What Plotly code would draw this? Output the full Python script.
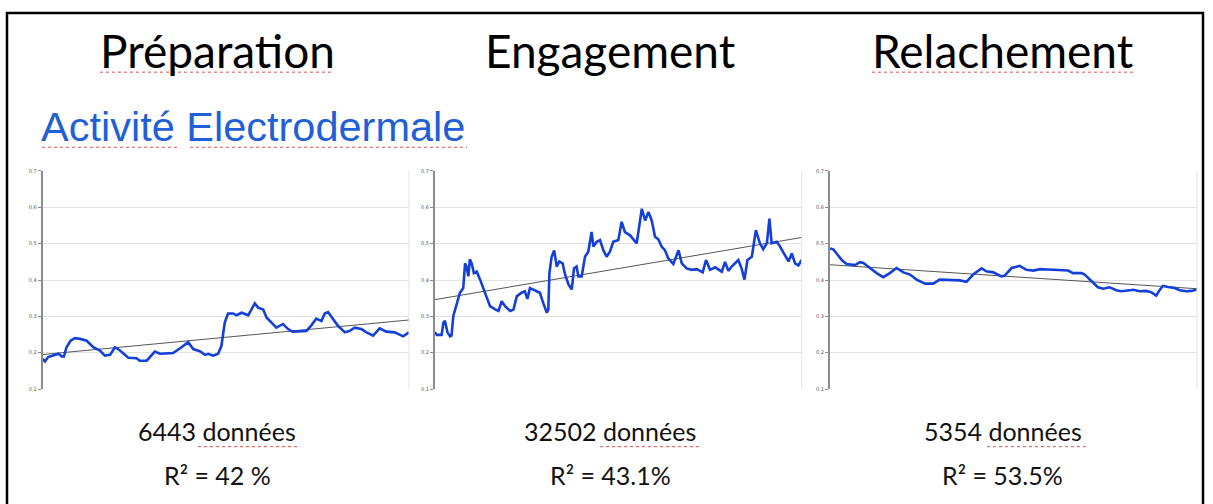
import plotly.graph_objects as go

W, H = 1213, 504

# --- data -----------------------------------------------------------------
phases = ["Préparation", "Engagement", "Relachement"]
n_samples = [6443, 32502, 5354]
r2_labels = ["R² = 42 %", "R² = 43.1%", "R² = 53.5%"]

# time as percent of the phase recording, electrodermal level
prep_t = [0.0, 0.6, 1.5, 2.9, 4.3, 5.2, 5.8, 6.5, 7.6, 8.8, 10.2, 12.0, 13.8, 15.6, 17.0,
          18.4, 19.7, 21.1, 23.4, 25.6, 26.5, 28.4, 30.6, 32.0, 33.8, 35.6, 37.9, 39.7,
          41.1, 42.9, 44.3, 45.2, 46.5, 47.9, 48.8, 49.7, 50.6, 52.0, 52.9, 54.3, 56.1,
          57.0, 57.9, 58.8, 60.2, 61.1, 62.5, 63.8, 65.6, 67.0, 68.2, 70.2, 72.0, 73.4,
          74.7, 76.1, 77.0, 77.9, 79.3, 80.6, 82.5, 83.8, 85.2, 87.0, 88.4, 90.2, 92.0,
          93.8, 96.1, 98.4, 100.0]
prep_eda = [0.183, 0.176, 0.188, 0.192, 0.197, 0.190, 0.190, 0.215, 0.233, 0.240, 0.238,
            0.233, 0.215, 0.206, 0.192, 0.194, 0.215, 0.206, 0.186, 0.185, 0.178, 0.178,
            0.203, 0.197, 0.197, 0.199, 0.215, 0.229, 0.210, 0.204, 0.194, 0.197, 0.192,
            0.197, 0.219, 0.283, 0.308, 0.308, 0.303, 0.310, 0.303, 0.319, 0.336, 0.324,
            0.319, 0.297, 0.281, 0.269, 0.279, 0.265, 0.258, 0.260, 0.260, 0.276, 0.294,
            0.287, 0.308, 0.312, 0.292, 0.274, 0.256, 0.260, 0.269, 0.265, 0.256, 0.247,
            0.267, 0.258, 0.256, 0.245, 0.256]

eng_t = [0.0, 0.5, 1.8, 2.3, 2.7, 3.4, 4.1, 4.5, 5.0, 5.9, 6.8, 7.7, 8.2, 8.6, 9.1, 9.5,
         10.0, 10.6, 11.4, 12.3, 13.2, 14.1, 15.0, 16.4, 17.3, 18.2, 19.1, 20.5, 21.4,
         22.3, 23.6, 24.5, 25.2, 25.9, 27.3, 28.6, 29.5, 30.5, 30.9, 31.2, 31.8, 32.5,
         33.2, 33.9, 34.8, 35.5, 36.4, 37.3, 37.9, 38.6, 39.1, 40.0, 40.9, 41.8, 42.7,
         43.2, 44.1, 45.0, 45.9, 46.8, 47.7, 48.6, 50.0, 50.9, 51.8, 53.2, 55.0, 56.4,
         57.3, 58.2, 59.1, 60.0, 60.9, 61.8, 62.7, 63.6, 65.0, 66.4, 67.3, 68.6, 70.0,
         71.4, 73.0, 73.9, 75.0, 76.4, 78.2, 79.1, 80.0, 80.9, 82.7, 83.6, 84.4, 85.2,
         86.4, 87.5, 88.6, 89.5, 90.5, 91.2, 91.8, 93.2, 94.1, 95.5, 96.4, 97.3, 98.2,
         99.1, 100.0]
eng_eda = [0.256, 0.249, 0.249, 0.283, 0.288, 0.256, 0.245, 0.247, 0.301, 0.337, 0.365,
           0.378, 0.446, 0.437, 0.410, 0.457, 0.446, 0.419, 0.423, 0.401, 0.378, 0.355,
           0.328, 0.319, 0.315, 0.342, 0.328, 0.315, 0.319, 0.355, 0.365, 0.369, 0.348,
           0.378, 0.372, 0.365, 0.337, 0.310, 0.319, 0.419, 0.464, 0.481, 0.437, 0.451,
           0.446, 0.414, 0.388, 0.374, 0.432, 0.437, 0.410, 0.410, 0.464, 0.478, 0.532,
           0.492, 0.505, 0.510, 0.482, 0.464, 0.478, 0.505, 0.510, 0.560, 0.532, 0.523,
           0.501, 0.596, 0.564, 0.587, 0.564, 0.519, 0.512, 0.492, 0.482, 0.460, 0.444,
           0.482, 0.446, 0.432, 0.428, 0.430, 0.421, 0.455, 0.428, 0.435, 0.423, 0.450,
           0.425, 0.437, 0.455, 0.432, 0.401, 0.455, 0.464, 0.537, 0.501, 0.485, 0.501,
           0.569, 0.501, 0.505, 0.492, 0.469, 0.451, 0.473, 0.446, 0.440, 0.455]

rel_t = [0.0, 0.9, 1.8, 3.2, 4.5, 6.8, 8.2, 9.1, 10.9, 12.7, 14.5, 16.3, 18.1, 20.0, 21.8,
         23.6, 25.9, 28.1, 29.9, 32.2, 34.0, 35.4, 37.2, 39.0, 41.3, 42.6, 44.5, 46.7,
         47.6, 49.5, 51.7, 53.5, 55.4, 57.2, 59.4, 61.3, 63.1, 64.9, 66.2, 68.5, 69.4,
         71.2, 73.0, 74.4, 76.2, 78.0, 79.4, 81.7, 82.6, 84.4, 86.2, 87.6, 88.9, 89.8,
         90.7, 92.1, 93.9, 95.3, 97.1, 98.5, 100.0]
rel_eda = [0.487, 0.484, 0.473, 0.455, 0.444, 0.441, 0.449, 0.447, 0.433, 0.419, 0.408,
           0.419, 0.433, 0.421, 0.415, 0.401, 0.390, 0.390, 0.401, 0.401, 0.399, 0.399,
           0.395, 0.415, 0.432, 0.424, 0.421, 0.410, 0.412, 0.433, 0.439, 0.428, 0.426,
           0.430, 0.429, 0.428, 0.426, 0.426, 0.419, 0.419, 0.415, 0.397, 0.380, 0.376,
           0.380, 0.372, 0.369, 0.372, 0.373, 0.369, 0.370, 0.366, 0.357, 0.372, 0.384,
           0.381, 0.378, 0.372, 0.369, 0.370, 0.374]

# linear trend: value at start and end of each phase
trend_start = [0.195, 0.346, 0.442]
trend_end = [0.290, 0.517, 0.376]

y_ticks = [0.1, 0.2, 0.3, 0.4, 0.5, 0.6, 0.7]
y_tick_labels = ["0,1", "0,2", "0,3", "0,4", "0,5", "0,6", "0,7"]

# --- layout helpers (pixel -> paper) --------------------------------------
def px(x):
    return x / W


def py(y):
    return 1 - y / H


panel_x = [(42.7, 409.0), (435.0, 801.7), (830.0, 1197.0)]
panel_top, panel_bottom = 170.0, 390.7
centers = [217, 610, 1003]

series_t = [prep_t, eng_t, rel_t]
series_v = [prep_eda, eng_eda, rel_eda]

fig = go.Figure()
layout = dict(
    width=W, height=H,
    margin=dict(l=0, r=0, t=0, b=0),
    paper_bgcolor="white", plot_bgcolor="white",
    showlegend=False,
    shapes=[], annotations=[],
)

for i in range(3):
    sfx = "" if i == 0 else str(i + 1)
    xa, ya = "x" + sfx, "y" + sfx
    x0, x1 = panel_x[i]
    layout["xaxis" + sfx] = dict(
        domain=[px(x0), px(x1)], range=[0, 100], showgrid=False, zeroline=False,
        showticklabels=False, ticks="", showline=False, anchor=ya, fixedrange=True,
    )
    layout["yaxis" + sfx] = dict(
        domain=[py(panel_bottom), py(panel_top)], range=[0.1, 0.7],
        tickvals=y_ticks, ticktext=y_tick_labels, anchor=xa,
        showgrid=True, gridcolor="#e3e3e3", gridwidth=1, zeroline=False,
        showline=True, linecolor="#8c8c8c", linewidth=2,
        ticks="outside", ticklen=3, tickcolor="#8c8c8c", tickwidth=1,
        tickfont=dict(family="DejaVu Sans", size=5, color="#555555"),
        fixedrange=True,
    )
    # right-hand border of the plot area
    layout["shapes"].append(dict(
        type="line", xref=xa + " domain", yref=ya + " domain",
        x0=1, x1=1, y0=0, y1=1, line=dict(color="#e3e3e3", width=1),
    ))
    # trend line
    fig.add_trace(go.Scatter(
        x=[0, 100], y=[trend_start[i], trend_end[i]], mode="lines",
        line=dict(color="#555555", width=1), xaxis=xa, yaxis=ya, hoverinfo="skip",
    ))
    # EDA signal
    fig.add_trace(go.Scatter(
        x=series_t[i], y=series_v[i], mode="lines",
        line=dict(color="#1440d8", width=2.6), xaxis=xa, yaxis=ya,
    ))

    # phase title
    layout["annotations"].append(dict(
        text=phases[i], x=px(centers[i]), y=py(48), xref="paper", yref="paper",
        xanchor="center", yanchor="middle", showarrow=False,
        font=dict(family="Lato", size=46, color="black"),
    ))
    # sample count and fit quality
    layout["annotations"].append(dict(
        text=f"{n_samples[i]} données", x=px(centers[i]), y=py(433),
        xref="paper", yref="paper", xanchor="center", yanchor="middle",
        showarrow=False, font=dict(family="Lato", size=25, color="#111111"),
    ))
    layout["annotations"].append(dict(
        text=r2_labels[i], x=px(centers[i]), y=py(478),
        xref="paper", yref="paper", xanchor="center", yanchor="middle",
        showarrow=False, font=dict(family="Lato", size=25, color="#111111"),
    ))

# section heading
layout["annotations"].append(dict(
    text="Activité Electrodermale", x=px(39), y=py(125), xref="paper", yref="paper",
    xanchor="left", yanchor="middle", showarrow=False,
    font=dict(family="Liberation Sans", size=41.5, color="#1f5fd8"),
))

# spell-check style dotted underlines
underlines = [
    (100, 333, 70), (872, 1133, 70),
    (42, 178, 146), (190, 467, 146),
    (198, 300, 449), (600, 700, 449), (987, 1087, 449),
]
for ux0, ux1, uy in underlines:
    layout["shapes"].append(dict(
        type="line", xref="paper", yref="paper", x0=px(ux0), x1=px(ux1),
        y0=py(uy), y1=py(uy), line=dict(color="#e05050", width=1, dash="dot"),
    ))

# page frame
layout["shapes"].append(dict(
    type="rect", xref="paper", yref="paper", x0=px(7), x1=px(1203),
    y0=py(520), y1=py(10), line=dict(color="black", width=2.5),
    fillcolor="rgba(0,0,0,0)",
))

fig.update_layout(**layout)
fig.write_html("out.html")
